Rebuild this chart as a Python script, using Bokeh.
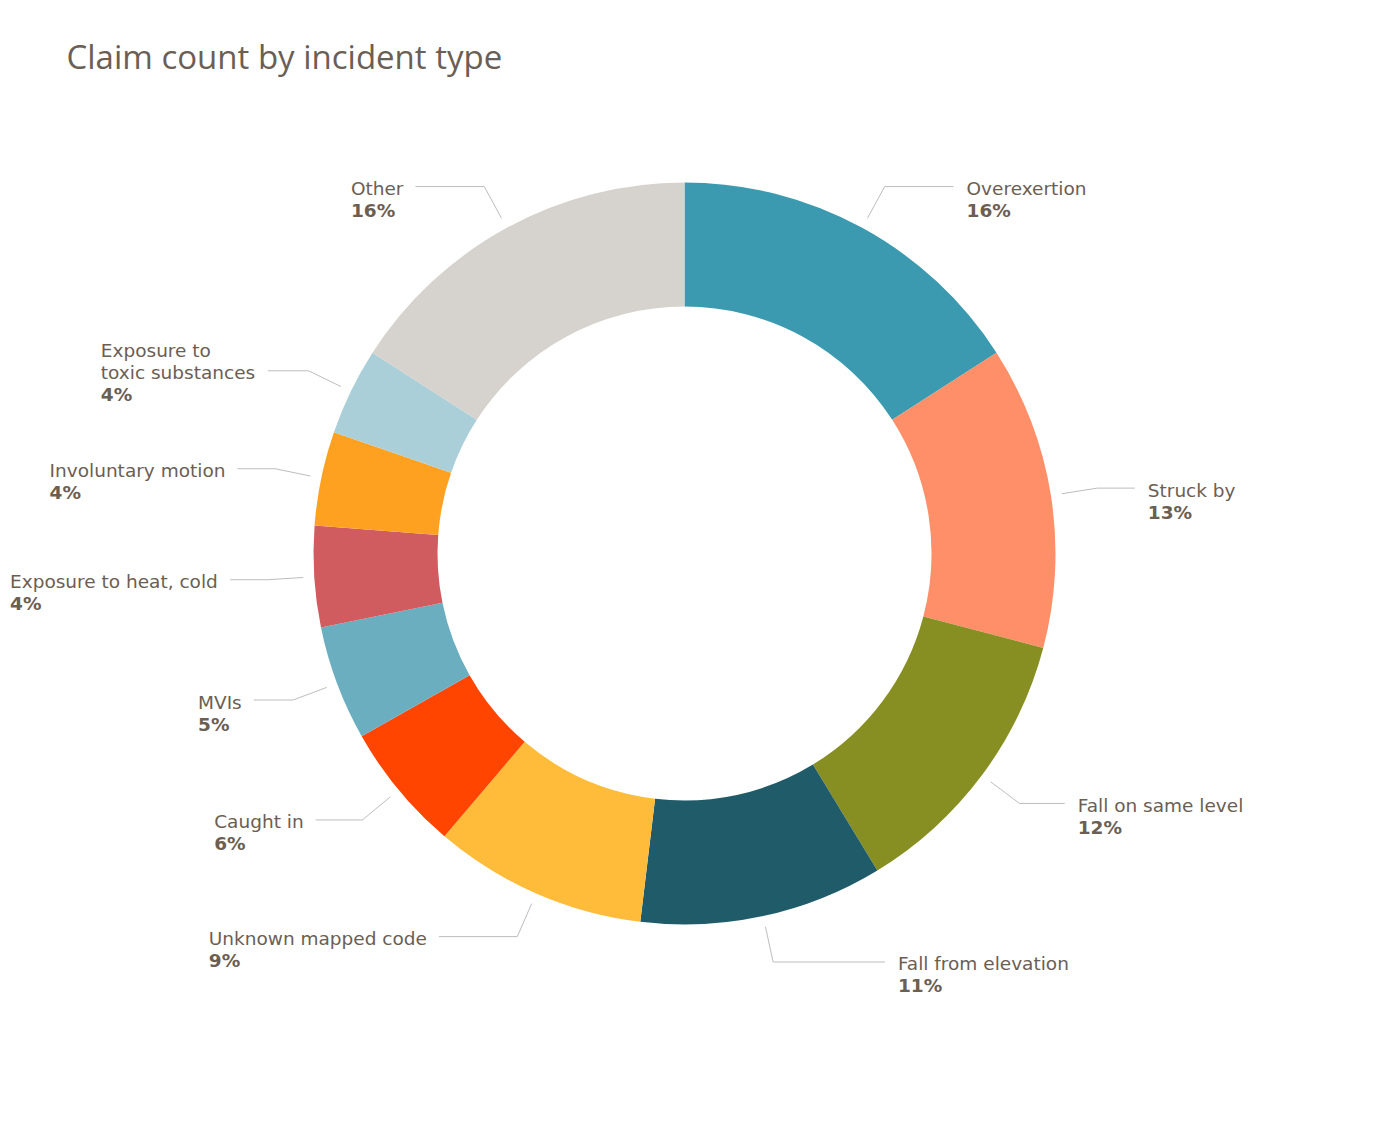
import math
import numpy as np
from bokeh.plotting import figure
from bokeh.models import ColumnDataSource, Range1d
from bokeh.core.properties import value
from bokeh.embed import file_html
from bokeh.resources import INLINE

# ---- data ----
categories = ["Overexertion", "Struck by", "Fall on same level", "Fall from elevation",
              "Unknown mapped code", "Caught in", "MVIs", "Exposure to heat, cold",
              "Involuntary motion", "Exposure to\ntoxic substances", "Other"]
shares = [15.9, 13.2, 12.2, 10.6, 9.3, 5.6, 5.0, 4.4, 4.1, 3.8, 15.9]
colors = ["#3C9AB0", "#FF8F69", "#878F22", "#205B69", "#FFBC3A", "#FF4500",
          "#6AAEBF", "#D05C60", "#FFA120", "#AACFD8", "#D6D3CE"]
title_text = "Claim count by incident type"

# ---- layout ----
W, H = 1380, 1123
CX_PX, CY_PX = 684, 553
R_OUT, R_IN = 371, 247
TEXT_COLOR = "#6B5E53"
FONT = "DejaVu Sans"
FS = 18.5

# approximate DejaVu Sans advance widths (em)
NORMAL_W = {' ': .318, ',': .318, 'a': .613, 'b': .635, 'c': .550, 'd': .635, 'e': .615,
            'f': .352, 'g': .635, 'h': .634, 'i': .278, 'j': .278, 'k': .579, 'l': .278,
            'm': .974, 'n': .634, 'o': .612, 'p': .635, 'q': .635, 'r': .411, 's': .521,
            't': .392, 'u': .634, 'v': .592, 'w': .818, 'x': .592, 'y': .592, 'z': .525,
            'E': .632, 'O': .787, 'S': .635, 'F': .575, 'U': .732, 'I': .295, 'M': .863,
            'V': .684, 'C': .698}
BOLD_W = {'%': 1.002}


def text_w(s, bold=False):
    if bold:
        return sum(BOLD_W.get(ch, .696) for ch in s) * FS
    return sum(NORMAL_W.get(ch, .6) for ch in s) * FS


p = figure(width=W, height=H, output_backend="svg", toolbar_location=None,
           x_range=Range1d(-CX_PX, W - CX_PX), y_range=Range1d(-(H - CY_PX), CY_PX),
           x_axis_location=None, y_axis_location=None, min_border=0)
p.grid.visible = False
p.outline_line_color = None
p.background_fill_color = "white"
p.border_fill_color = "white"

total = float(sum(shares))
cum = np.concatenate([[0.0], np.cumsum(shares)]) / total
starts = [math.pi / 2 - 2 * math.pi * c for c in cum[:-1]]
ends = [math.pi / 2 - 2 * math.pi * c for c in cum[1:]]
src = ColumnDataSource(dict(start=starts, end=ends, color=colors))
p.annular_wedge(x=0, y=0, inner_radius=R_IN, outer_radius=R_OUT,
                start_angle="start", end_angle="end", direction="clock",
                fill_color="color", line_color=None, source=src)

# labels and leader lines
xs, ys = [], []
name_x, name_y, name_t = [], [], []
pct_x, pct_y, pct_t = [], [], []
for i, cat in enumerate(categories):
    theta = 2 * math.pi * (cum[i] + cum[i + 1]) / 2
    sx, sy = (R_OUT + 11) * math.sin(theta), (R_OUT + 11) * math.cos(theta)
    bx, by = (R_OUT + 47) * math.sin(theta), (R_OUT + 47) * math.cos(theta)
    side = 1 if math.sin(theta) >= 0 else -1
    ex = side * max(math.sqrt(max(455 ** 2 - by ** 2, 0)), abs(bx) + 24)
    xs.append([sx, bx, ex])
    ys.append([sy, by, by])
    lines = cat.split("\n")
    pct = f"{round(shares[i] / total * 100)}%"
    bw = max(max(text_w(l) for l in lines), text_w(pct, True))
    lx = ex + 13 if side > 0 else ex - 12 - bw
    n = len(lines)
    for k, l in enumerate(lines):
        name_x.append(lx)
        name_y.append(by - 2 + (n - 1 - k) * 22)
        name_t.append(l)
    pct_x.append(lx)
    pct_y.append(by - 2 - 22)
    pct_t.append(pct)

p.multi_line(xs=xs, ys=ys, line_color="#BDBDBD", line_width=1)
p.text(x=name_x, y=name_y, text=name_t, text_font=value(FONT), text_font_size=f"{FS}px",
       text_color=TEXT_COLOR, text_align="left", text_baseline="middle")
p.text(x=pct_x, y=pct_y, text=pct_t, text_font=value(FONT), text_font_size=f"{FS}px",
       text_font_style="bold", text_color=TEXT_COLOR, text_align="left", text_baseline="middle")

# title
p.text(x=[66 - CX_PX], y=[CY_PX - 56], text=[title_text], text_font=value("Open Sans"),
       text_font_size="33px", text_color="#6B5E54", text_align="left",
       text_baseline="middle")

open("out.html", "w").write(file_html(p, INLINE))
